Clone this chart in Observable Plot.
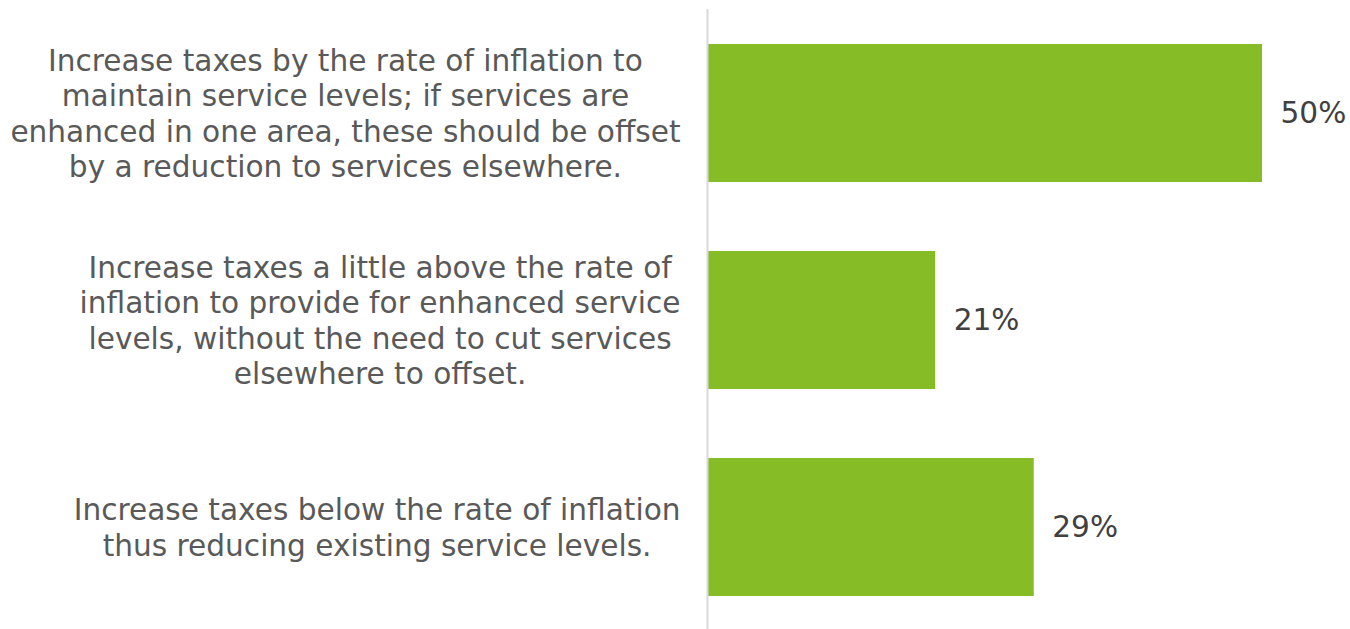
<!DOCTYPE html>
<html><head><meta charset="utf-8">
<script src="https://cdn.jsdelivr.net/npm/d3@7"></script>
<script src="https://cdn.jsdelivr.net/npm/@observablehq/plot@0.6"></script>
<style>html,body{margin:0;padding:0;background:#fff;overflow:hidden;}</style>
</head><body><div id="chart"></div>
<script>
const categories = [
  "Increase taxes by the rate of inflation to\nmaintain service levels; if services are\nenhanced in one area, these should be offset\nby a reduction to services elsewhere.",
  "Increase taxes a little above the rate of\ninflation to provide for enhanced service\nlevels, without the need to cut services\nelsewhere to offset.",
  "Increase taxes below the rate of inflation\nthus reducing existing service levels."
];
const values = [50.0, 20.5, 29.4];
const valueLabels = ["50%", "21%", "29%"];

const FONT = "DejaVu Sans";
const FS = 29.6;
const ctx = document.createElement("canvas").getContext("2d");
ctx.font = `${FS}px "${FONT}"`;
const blockWidth = s => Math.max(...s.split("\n").map(l => ctx.measureText(l).width));

const idx = d3.range(categories.length);

const labelMarks = categories.map(c => Plot.text([c], {
  x: 0, y: d => d, text: d => d,
  textAnchor: "middle", dx: -(28 + blockWidth(c) / 2), dy: -1,
  fill: "#595959", fontSize: FS, fontFamily: FONT, lineHeight: 1.2
}));

const chart = Plot.plot({
  width: 1350, height: 629,
  marginLeft: 708, marginRight: 88, marginTop: 9, marginBottom: 0,
  x: {domain: [0, 50], axis: null},
  y: {domain: categories, range: [8.5, 631.3], paddingInner: 0.334, paddingOuter: 0.165, axis: null},
  style: {fontFamily: FONT, background: "#fff"},
  marks: [
    Plot.barX(idx, {x: i => values[i], y: i => categories[i], fill: "#86bc25"}),
    Plot.ruleX([0], {stroke: "#d9d9d9", strokeWidth: 2, dx: -1}),
    Plot.text(idx, {x: i => values[i], y: i => categories[i], text: i => valueLabels[i],
      dx: 18, textAnchor: "start", fill: "#404040", fontSize: FS, fontFamily: FONT}),
    ...labelMarks
  ]
});
document.getElementById("chart").appendChild(chart);
</script></body></html>
